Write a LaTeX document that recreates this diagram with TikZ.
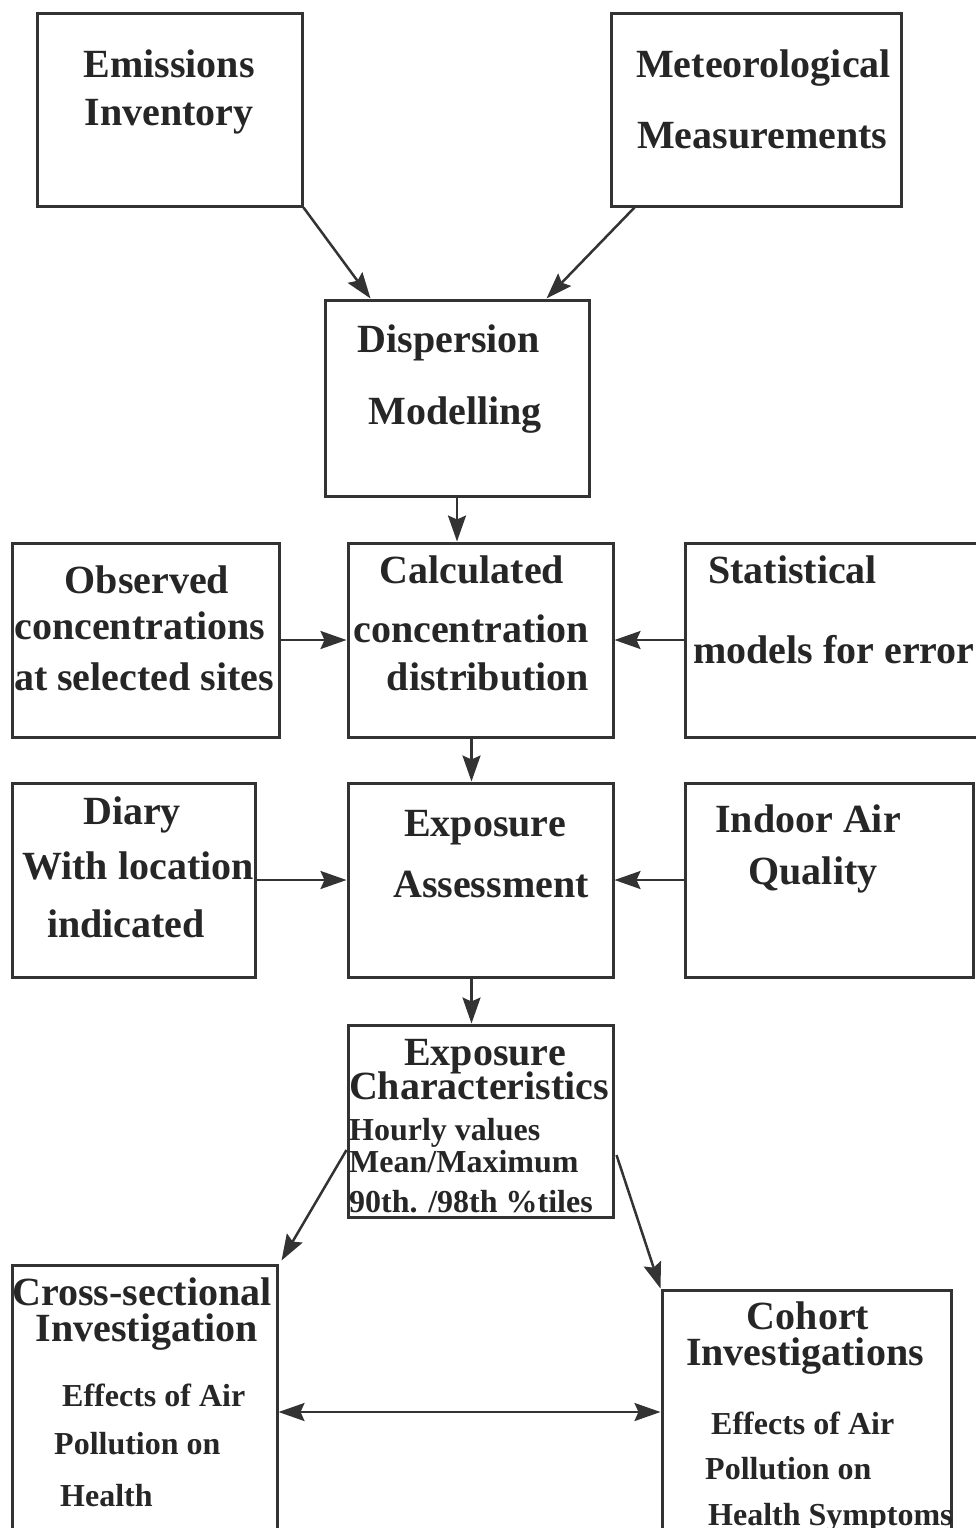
\documentclass[tikz,border=0pt]{standalone}
\usepackage{fontspec}
\setmainfont{Liberation Serif}
\usetikzlibrary{arrows.meta,fit}
\begin{document}
\begin{tikzpicture}[x=1pt,y=-1pt,
  box/.style={draw=black!80, line width=3pt, inner sep=0pt},
  txt/.style={inner sep=0pt, text height=0.66em, text depth=0pt, text=black!85,
    font=\fontsize{40}{40}\selectfont\bfseries, yshift=-8pt},
  big/.style={font=\fontsize{40}{40}\selectfont\bfseries},
  small/.style={font=\fontsize{32}{32}\selectfont\bfseries},
  lft/.style={anchor=west},
  tip/.tip={Stealth[length=26pt,width=18pt,inset=4pt]},
  arr/.style={draw=black!80, line width=2.5pt, -tip},
  darr/.style={draw=black!80, line width=2.5pt, tip-tip}
]
\path[use as bounding box] (0,0) rectangle (975,1528);

% boxes
\node[box, fit={(37,14) (302,206)}] (em) {};
\node[box, fit={(611,14) (901,206)}] (met) {};
\node[box, fit={(325,300) (589,496)}] (disp) {};
\node[box, fit={(12,543) (279,737)}] (obs) {};
\node[box, fit={(348,543) (613,737)}] (calc) {};
\node[box, fit={(685,543) (990,737)}] (stat) {};
\node[box, fit={(12,783) (255,977)}] (diary) {};
\node[box, fit={(348,783) (613,977)}] (ea) {};
\node[box, fit={(685,783) (973,977)}] (indoor) {};
\node[box, fit={(348,1025) (613,1217)}] (ec) {};
\node[box, fit={(12,1265) (277,1545)}] (cross) {};
\node[box, fit={(662,1290) (951,1545)}] (cohort) {};

% texts
\node[txt] (t1) at (169,66) {Emissions};
\node[txt] (t2) at (169,114) {Inventory};
\node[txt,lft] (t3) at (636,66) {Meteorological};
\node[txt,lft] (t4) at (637,137) {Measurements};
\node[txt] (t5) at (449,341) {Dispersion};
\node[txt] (t6) at (455,413) {Modelling};
\node[txt] (t7) at (147,582) {Observed};
\node[txt] (t8) at (140,628) {concentrations};
\node[txt] (t9) at (144,679) {at selected sites};
\node[txt] (t10) at (472,572) {Calculated};
\node[txt] (t11) at (471,631) {concentration};
\node[txt] (t12) at (488,679) {distribution};
\node[txt,lft] (t13) at (708,572) {Statistical};
\node[txt,lft] (t14) at (693,652) {models for error};
\node[txt] (t15) at (132,813) {Diary};
\node[txt] (t16) at (138,868) {With location};
\node[txt] (t17) at (126,926) {indicated};
\node[txt] (t18) at (485,825) {Exposure};
\node[txt] (t19) at (491,886) {Assessment};
\node[txt] (t20) at (808,821) {Indoor Air};
\node[txt] (t21) at (813,873) {Quality};
\node[txt] (t22) at (485,1054) {Exposure};
\node[txt,big] (t23) at (479,1088) {Characteristics};
\node[txt,small,lft] (t24) at (349,1129) {Hourly values};
\node[txt,small,lft] (t25) at (349,1161) {Mean/Maximum};
\node[txt,small,lft] (t26) at (349,1201) {90th. /98th \%tiles};
\node[txt,big] (t27) at (142,1294) {Cross-sectional};
\node[txt,big] (t28) at (147,1330) {Investigation};
\node[txt,small,lft] (t29) at (62,1395) {Effects of Air};
\node[txt,small,lft] (t30) at (54,1443) {Pollution on};
\node[txt,small,lft] (t31) at (60,1495) {Health};
\node[txt,big] (t32) at (808,1318) {Cohort};
\node[txt,big] (t33) at (805,1354) {Investigations};
\node[txt,small,lft] (t34) at (711,1423) {Effects of Air};
\node[txt,small,lft] (t35) at (705,1468) {Pollution on};
\node[txt,small,lft] (t36) at (708,1514) {Health Symptoms};

% connectors
\draw[arr] (em.south east) -- ([xshift=47pt]disp.north west);
\draw[arr] ([xshift=25pt]met.south west) -- ([xshift=-44pt]disp.north east);
\draw[arr] (disp.south) -- (disp.south |- calc.north);
\draw[arr] (obs.east) -- (obs.east -| calc.west);
\draw[arr] (stat.west |- obs.east) -- (obs.east -| calc.east);
\draw[arr] ([xshift=-9pt]calc.south) -- ([xshift=-9pt]ea.north);
\draw[arr] (diary.east) -- (diary.east -| ea.west);
\draw[arr] (indoor.west |- diary.east) -- (diary.east -| ea.east);
\draw[arr] ([xshift=-9pt]ea.south) -- ([xshift=-9pt]ec.north);
\draw[arr] ([yshift=-29pt]ec.west) -- ([xshift=3pt,yshift=3pt]cross.north east);
\draw[arr] ([xshift=2pt,yshift=-34pt]ec.east) -- (cohort.north west);
\coordinate (mid) at (470,1412);
\draw[darr] (cross.east |- mid) -- (cohort.west |- mid);
\end{tikzpicture}
\end{document}
